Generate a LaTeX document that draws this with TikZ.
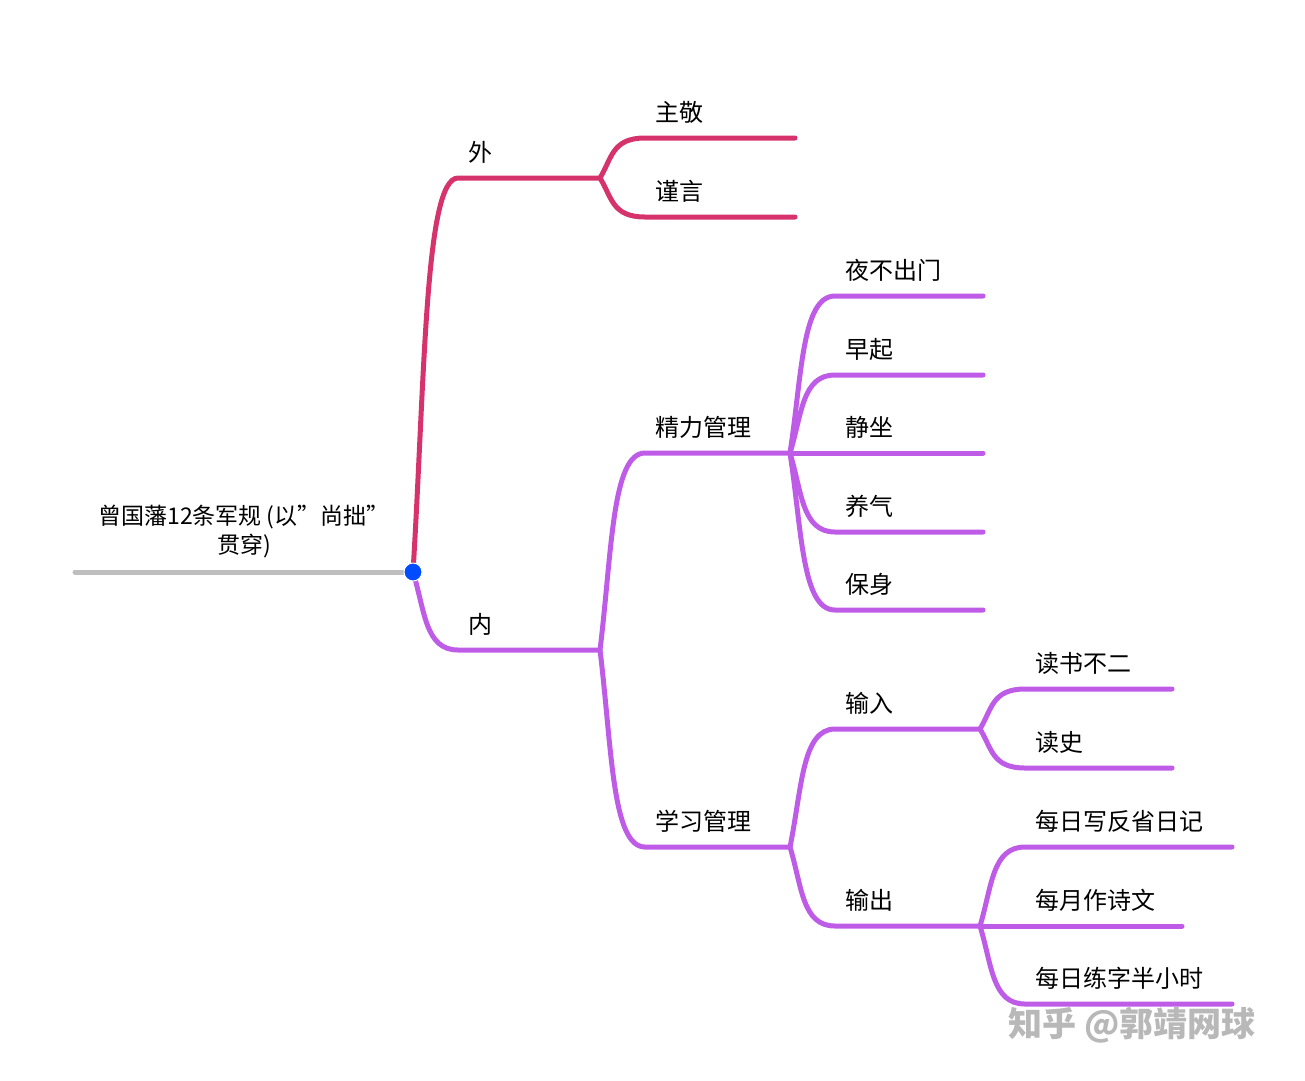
\documentclass[tikz,border=0pt]{standalone}
\usepackage{fontspec}
\setmainfont{Noto Sans CJK SC}
\definecolor{waiRed}{RGB}{214,51,108}
\definecolor{neiPurple}{RGB}{190,92,232}
\definecolor{rootGrey}{RGB}{190,190,190}
\tikzset{
  twig/.style={line width=5pt,line cap=round},
  leaf/.style={anchor=south west,inner sep=0pt,font=\fontsize{24}{28}\selectfont},
}
% one branch: colour, fork x, fork y, branch y, end x, name, label
\newcommand\bough[7]{%
  \coordinate (#6) at (#5,#4);
  \draw[twig,#1] (#2,#3) .. controls (#2+12,#3+0.5*#4-0.5*#3) and (#2+12,#4) .. (#2+45,#4) -- (#6);
  \node[leaf] (#6-txt) at (#2+55,#4-14) {#7};}
\begin{document}
\begin{tikzpicture}[x=1pt,y=-1pt]
\useasboundingbox (0,0) rectangle (1305,1080);

%root
\coordinate (root) at (413,572);
\coordinate (rootL) at (75,572);
\draw[twig,rootGrey] (rootL) -- (root);
\node[align=center,font=\fontsize{23}{29}\selectfont] (rootTxt) at (244,531) {曾国藩12条军规 (以”尚拙”\\贯穿)};

%first level
\bough{waiRed}{413}{572}{178}{600}{wai}{外}
\bough{neiPurple}{413}{572}{650}{600}{nei}{内}

%outer
\foreach \y/\n/\t in {138/zj/主敬,217/jy/谨言}
  {\bough{waiRed}{600}{178}{\y}{795}{\n}{\t}}

%inner
\bough{neiPurple}{600}{650}{453}{790}{jl}{精力管理}
\bough{neiPurple}{600}{650}{847}{790}{xx}{学习管理}
\foreach \y/\n/\t in {296/ybcm/夜不出门,375/zq/早起,453/jz/静坐,532/yq/养气,610/bs/保身}
  {\bough{neiPurple}{790}{453}{\y}{983}{\n}{\t}}
\bough{neiPurple}{790}{847}{729}{980}{sr}{输入}
\bough{neiPurple}{790}{847}{926}{980}{sc}{输出}
\foreach \y/\e/\n/\t in {689/1172/dsbe/读书不二,768/1172/ds/读史}
  {\bough{neiPurple}{980}{729}{\y}{\e}{\n}{\t}}
\foreach \y/\e/\n/\t in {847/1232/mrx/每日写反省日记,926/1182/myz/每月作诗文,1004/1232/mrl/每日练字半小时}
  {\bough{neiPurple}{980}{926}{\y}{\e}{\n}{\t}}

\fill[blue!70!cyan,draw=white,line width=1pt] (root) circle (9);

%watermark
\node[text=black!28,font=\fontsize{34}{38}\selectfont\bfseries] (mark) at (1132,1025) {知乎 @郭靖网球};
\end{tikzpicture}
\end{document}
